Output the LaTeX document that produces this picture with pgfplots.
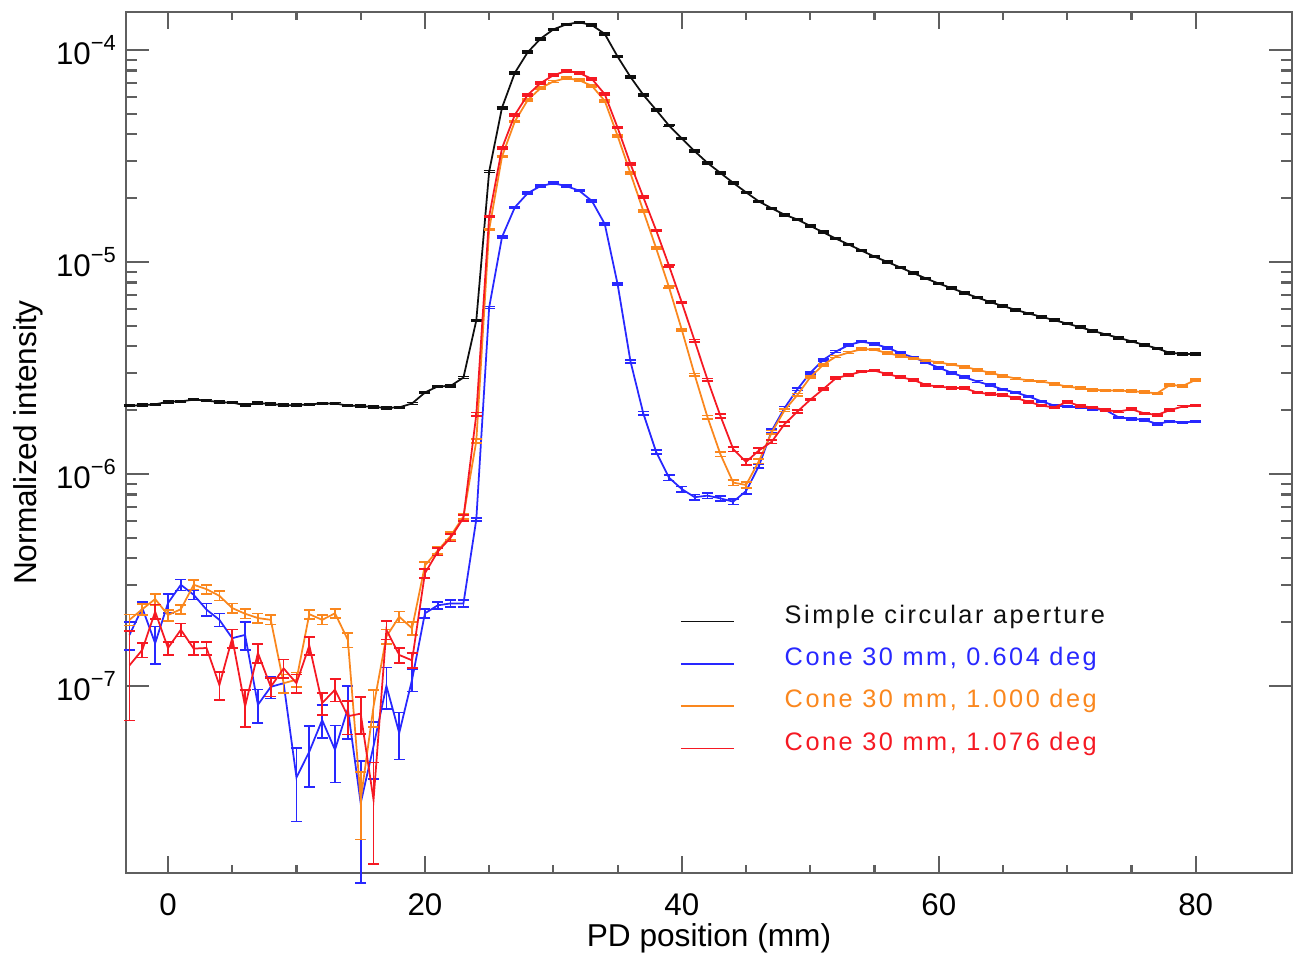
\documentclass[border=0pt]{standalone}
\usepackage{fontspec}
\setmainfont{Liberation Sans}
\newfontfamily\legfont[LetterSpace=10]{Liberation Sans}
\usepackage{pgfplots}
\pgfplotsset{compat=1.18}
\usepackage{pgfplotstable}
\usetikzlibrary{calc}

\definecolor{cblack}{RGB}{15,15,15}
\definecolor{cblue}{RGB}{40,40,255}
\definecolor{corange}{RGB}{250,135,30}
\definecolor{cred}{RGB}{245,25,35}
\definecolor{caxis}{RGB}{95,95,95}

\pgfplotstableread{
x y e
-3 2.10e-6 0.01
-2 2.11e-6 0.01
-1 2.13e-6 0.01
0 2.19e-6 0.01
1 2.20e-6 0.01
2 2.24e-6 0.01
3 2.22e-6 0.01
4 2.18e-6 0.01
5 2.17e-6 0.01
6 2.11e-6 0.01
7 2.16e-6 0.01
8 2.14e-6 0.01
9 2.11e-6 0.01
10 2.11e-6 0.01
11 2.13e-6 0.01
12 2.15e-6 0.01
13 2.15e-6 0.01
14 2.10e-6 0.01
15 2.09e-6 0.01
16 2.07e-6 0.01
17 2.05e-6 0.01
18 2.06e-6 0.01
19 2.15e-6 0.01
20 2.42e-6 0.01
21 2.59e-6 0.01
22 2.60e-6 0.01
23 2.85e-6 0.01
24 5.3e-6 0.01
25 2.67e-5 0.01
26 5.34e-5 0.01
27 7.8e-5 0.01
28 9.75e-5 0.01
29 1.13e-4 0.01
30 1.25e-4 0.01
31 1.32e-4 0.01
32 1.35e-4 0.01
33 1.31e-4 0.01
34 1.19e-4 0.01
35 9.3e-5 0.01
36 7.46e-5 0.01
37 6.14e-5 0.01
38 5.21e-5 0.01
39 4.4e-5 0.01
40 3.82e-5 0.01
41 3.33e-5 0.01
42 2.93e-5 0.01
43 2.63e-5 0.01
44 2.36e-5 0.01
45 2.13e-5 0.01
46 1.93e-5 0.01
47 1.79e-5 0.01
48 1.67e-5 0.01
49 1.585e-5 0.01
50 1.479e-5 0.01
51 1.380e-5 0.01
52 1.288e-5 0.01
53 1.208e-5 0.01
54 1.130e-5 0.01
55 1.059e-5 0.01
56 1.0e-5 0.01
57 9.42e-6 0.01
58 8.87e-6 0.01
59 8.36e-6 0.01
60 7.91e-6 0.01
61 7.52e-6 0.01
62 7.14e-6 0.01
63 6.79e-6 0.01
64 6.47e-6 0.01
65 6.19e-6 0.01
66 5.94e-6 0.01
67 5.71e-6 0.01
68 5.51e-6 0.01
69 5.31e-6 0.01
70 5.12e-6 0.01
71 4.92e-6 0.01
72 4.73e-6 0.01
73 4.55e-6 0.01
74 4.39e-6 0.01
75 4.22e-6 0.01
76 4.06e-6 0.01
77 3.91e-6 0.01
78 3.72e-6 0.01
79 3.69e-6 0.01
80 3.67e-6 0.01
}\tblack

\pgfplotstableread{
x y e
-3 1.74e-7 0.15
-2 2.33e-7 0.07
-1 1.59e-7 0.2
0 2.46e-7 0.1
1 3.0e-7 0.06
2 2.69e-7 0.05
3 2.29e-7 0.07
4 2.05e-7 0.07
5 1.68e-7 0.1
6 1.74e-7 0.15
7 8.15e-8 0.18
8 9.9e-8 0.12
9 1.03e-7 0.1
10 3.7e-8 0.38
11 4.9e-8 0.32
12 6.9e-8 0.18
13 5.0e-8 0.3
14 7.8e-8 0.28
15 2.8e-8 0.58
16 5.2e-8 0.3
17 1.0e-7 0.22
18 6.0e-8 0.25
19 1.07e-7 0.12
20 2.2e-7 0.05
21 2.4e-7 0.04
22 2.45e-7 0.04
23 2.45e-7 0.04
24 6.1e-7 0.02
25 6.1e-6 0.01
26 1.31e-5 0.01
27 1.81e-5 0.01
28 2.11e-5 0.01
29 2.28e-5 0.01
30 2.35e-5 0.01
31 2.28e-5 0.01
32 2.17e-5 0.01
33 1.94e-5 0.01
34 1.51e-5 0.01
35 7.85e-6 0.01
36 3.4e-6 0.015
37 1.93e-6 0.02
38 1.27e-6 0.025
39 9.6e-7 0.03
40 8.48e-7 0.03
41 7.77e-7 0.03
42 7.9e-7 0.03
43 7.67e-7 0.03
44 7.4e-7 0.03
45 8.3e-7 0.03
46 1.09e-6 0.025
47 1.6e-6 0.02
48 2.05e-6 0.015
49 2.51e-6 0.015
50 3.0e-6 0.01
51 3.45e-6 0.01
52 3.78e-6 0.01
53 4.06e-6 0.01
54 4.21e-6 0.01
55 4.1e-6 0.01
56 3.94e-6 0.01
57 3.72e-6 0.01
58 3.55e-6 0.01
59 3.36e-6 0.01
60 3.17e-6 0.01
61 3.0e-6 0.01
62 2.86e-6 0.01
63 2.73e-6 0.01
64 2.62e-6 0.01
65 2.5e-6 0.01
66 2.42e-6 0.01
67 2.32e-6 0.01
68 2.2e-6 0.01
69 2.1e-6 0.01
70 2.08e-6 0.01
71 2.06e-6 0.01
72 2.03e-6 0.01
73 2.0e-6 0.01
74 1.85e-6 0.01
75 1.82e-6 0.01
76 1.8e-6 0.01
77 1.72e-6 0.01
78 1.77e-6 0.01
79 1.75e-6 0.01
80 1.77e-6 0.01
}\tblue

\pgfplotstableread{
x y e
-3 2.05e-7 0.06
-2 2.3e-7 0.06
-1 2.57e-7 0.06
0 2.16e-7 0.06
1 2.3e-7 0.05
2 3.0e-7 0.05
3 2.86e-7 0.05
4 2.66e-7 0.05
5 2.33e-7 0.05
6 2.19e-7 0.05
7 2.09e-7 0.05
8 2.05e-7 0.05
9 1.03e-7 0.1
10 1.07e-7 0.08
11 2.18e-7 0.05
12 2.05e-7 0.05
13 2.2e-7 0.05
14 1.65e-7 0.08
15 2.9e-8 0.35
16 8.0e-8 0.2
17 1.71e-7 0.08
18 2.12e-7 0.06
19 1.87e-7 0.07
20 3.7e-7 0.04
21 4.35e-7 0.04
22 5.1e-7 0.04
23 6.3e-7 0.03
24 1.43e-6 0.02
25 1.42e-5 0.01
26 3.14e-5 0.01
27 4.6e-5 0.01
28 5.8e-5 0.01
29 6.6e-5 0.01
30 7.1e-5 0.01
31 7.36e-5 0.01
32 7.2e-5 0.01
33 6.77e-5 0.01
34 5.75e-5 0.01
35 3.93e-5 0.01
36 2.62e-5 0.01
37 1.74e-5 0.01
38 1.16e-5 0.01
39 7.6e-6 0.01
40 4.78e-6 0.01
41 2.93e-6 0.015
42 1.85e-6 0.02
43 1.24e-6 0.025
44 9.1e-7 0.03
45 8.87e-7 0.03
46 1.15e-6 0.025
47 1.57e-6 0.02
48 2.0e-6 0.015
49 2.36e-6 0.015
50 2.86e-6 0.01
51 3.27e-6 0.01
52 3.58e-6 0.01
53 3.74e-6 0.01
54 3.88e-6 0.01
55 3.86e-6 0.01
56 3.71e-6 0.01
57 3.61e-6 0.01
58 3.51e-6 0.01
59 3.43e-6 0.01
60 3.36e-6 0.01
61 3.28e-6 0.01
62 3.2e-6 0.01
63 3.1e-6 0.01
64 3.0e-6 0.01
65 2.9e-6 0.01
66 2.82e-6 0.01
67 2.76e-6 0.01
68 2.73e-6 0.01
69 2.66e-6 0.01
70 2.58e-6 0.01
71 2.54e-6 0.01
72 2.49e-6 0.01
73 2.48e-6 0.01
74 2.47e-6 0.01
75 2.46e-6 0.01
76 2.43e-6 0.01
77 2.4e-6 0.01
78 2.63e-6 0.01
79 2.6e-6 0.01
80 2.78e-6 0.01
}\torange

\pgfplotstableread{
x y e
-3 1.25e-7 0.45
-2 1.48e-7 0.08
-1 2.24e-7 0.08
0 1.51e-7 0.07
1 1.84e-7 0.07
2 1.5e-7 0.07
3 1.51e-7 0.07
4 1.01e-7 0.15
5 1.68e-7 0.1
6 8.0e-8 0.2
7 1.43e-7 0.1
8 9.9e-8 0.1
9 1.21e-7 0.1
10 1.03e-7 0.1
11 1.55e-7 0.1
12 8.3e-8 0.12
13 9.6e-8 0.12
14 7.2e-8 0.18
15 7.4e-8 0.2
16 2.9e-8 0.5
17 1.84e-7 0.1
18 1.4e-7 0.08
19 1.32e-7 0.08
20 3.4e-7 0.05
21 4.3e-7 0.04
22 5.0e-7 0.04
23 6.2e-7 0.03
24 1.91e-6 0.02
25 1.64e-5 0.01
26 3.44e-5 0.01
27 4.94e-5 0.01
28 6.14e-5 0.01
29 6.97e-5 0.01
30 7.6e-5 0.01
31 7.96e-5 0.01
32 7.8e-5 0.01
33 7.3e-5 0.01
34 6.18e-5 0.01
35 4.3e-5 0.01
36 2.9e-5 0.01
37 2.02e-5 0.01
38 1.41e-5 0.01
39 9.6e-6 0.01
40 6.43e-6 0.01
41 4.24e-6 0.015
42 2.78e-6 0.015
43 1.88e-6 0.02
44 1.31e-6 0.025
45 1.14e-6 0.03
46 1.29e-6 0.025
47 1.42e-6 0.02
48 1.72e-6 0.02
49 1.97e-6 0.015
50 2.24e-6 0.01
51 2.51e-6 0.01
52 2.83e-6 0.01
53 2.93e-6 0.01
54 3.04e-6 0.01
55 3.07e-6 0.01
56 2.96e-6 0.01
57 2.86e-6 0.01
58 2.78e-6 0.01
59 2.63e-6 0.01
60 2.58e-6 0.01
61 2.55e-6 0.01
62 2.54e-6 0.01
63 2.42e-6 0.01
64 2.38e-6 0.01
65 2.36e-6 0.01
66 2.28e-6 0.01
67 2.19e-6 0.01
68 2.1e-6 0.01
69 2.06e-6 0.01
70 2.19e-6 0.01
71 2.09e-6 0.01
72 2.06e-6 0.01
73 2.0e-6 0.01
74 1.97e-6 0.01
75 2.02e-6 0.01
76 1.93e-6 0.01
77 1.9e-6 0.01
78 2.0e-6 0.01
79 2.08e-6 0.01
80 2.1e-6 0.01
}\tred

\pgfplotsset{
  ebar/.style={
    error bars/.cd,
      y dir=both, y explicit relative,
      error bar style={line width=0.5pt, solid},
      error mark options={rotate=90, mark size=0.55mm, line width=0.5pt, solid},
  },
}

\begin{document}
\begin{tikzpicture}
\begin{axis}[
  scale only axis,
  width=116.6mm, height=86.1mm,
  xmin=-3.27, xmax=87.5,
  ymode=log, ymin=1.31e-8, ymax=1.51e-4,
  xtick={0,20,40,60,80},
  minor x tick num=3,
  ytick={1e-7,1e-6,1e-5,1e-4},
  yticklabels={10\textsuperscript{−7},10\textsuperscript{−6},10\textsuperscript{−5},10\textsuperscript{−4}},
  tick align=inside,
  axis line style={caxis, line width=0.6pt},
  every tick/.style={caxis, line width=0.6pt},
  major tick length=2.3mm, minor tick length=1.15mm,
  xtick style={/pgfplots/major tick length=1.7mm, /pgfplots/minor tick length=0.85mm},
  clip=false,
  /pgf/number format/assume math mode=true,
  tick label style={font=\fontsize{8.9}{10}\selectfont},
  xticklabel style={yshift=-0.8mm},
  yticklabel style={xshift=0.4mm},
  xlabel={PD position (mm)},
  ylabel={Normalized intensity},
  every axis x label/.style={at={(axis description cs:0.5,-0.0760)}, anchor=center, font=\fontsize{9}{10.5}\selectfont},
  every axis y label/.style={at={(axis description cs:-0.084,0.5)}, anchor=center, rotate=90, font=\fontsize{9}{10.5}\selectfont},
  legend cell align=left,
  legend style={at={(0.4751,0.317)}, anchor=north west, draw=none, fill=none,
    inner sep=0pt, outer sep=0pt, row sep=1.23mm, column sep=5mm,
    nodes={inner sep=0pt, text height=2.3mm, text depth=0.7mm},
    font=\legfont\fontsize{7.2}{8}\selectfont},
  legend image code/.code={\draw[#1] (0mm,-0.65mm) -- (5.3mm,-0.65mm); \path (0mm,0.65mm);},
]
\addplot[cblack, line width=0.5pt, mark=none, ebar] table[x=x, y=y, y error=e] {\tblack};
\addlegendentry{\textcolor{cblack}{Simple circular aperture}}
\addplot[cblue, line width=0.5pt, mark=none, ebar] table[x=x, y=y, y error=e] {\tblue};
\addlegendentry{\textcolor{cblue}{Cone 30 mm, 0.604 deg}}
\addplot[corange, line width=0.5pt, mark=none, ebar] table[x=x, y=y, y error=e] {\torange};
\addlegendentry{\textcolor{corange}{Cone 30 mm, 1.000 deg}}
\addplot[cred, line width=0.5pt, mark=none, ebar] table[x=x, y=y, y error=e] {\tred};
\addlegendentry{\textcolor{cred}{Cone 30 mm, 1.076 deg}}
\end{axis}
\pgfresetboundingbox
\path ($(current axis.south west)+(-12.6mm,-8.6mm)$) rectangle ($(current axis.north east)+(0.5mm,1.2mm)$);
\end{tikzpicture}
\end{document}
